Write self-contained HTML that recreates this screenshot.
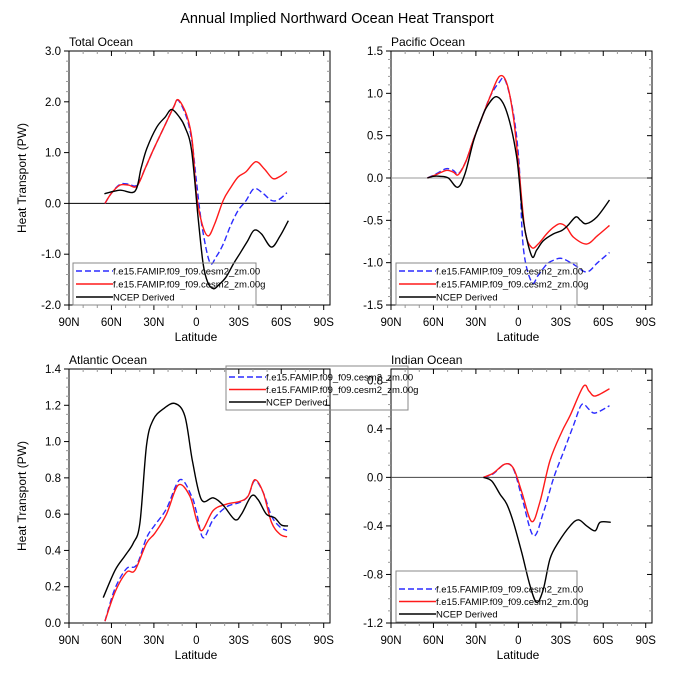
<!DOCTYPE html>
<html><head><meta charset="utf-8">
<style>
body{margin:0;background:#fff;}
svg text{font-family:"Liberation Sans",sans-serif;fill:#000;}
</style></head>
<body>
<svg id="chart" width="673" height="671" xmlns="http://www.w3.org/2000/svg">
<text x="337" y="23" font-size="14.5" text-anchor="middle">Annual Implied Northward Ocean Heat Transport</text>
</svg>
<script>
// Data (latitude in degrees N positive, values in PW)
const xTickLabels=["90N","60N","30N","0","30S","60S","90S"];
const seriesNames=["f.e15.FAMIP.f09_f09.cesm2_zm.00","f.e15.FAMIP.f09_f09.cesm2_zm.00g","NCEP Derived"];
// Total Ocean
const totalBlueLat=[64.6,60,54,48,42,36,30.5,22,16,12.8,7,3,0,-4,-9.5,-14,-19,-24,-29.5,-35,-40.8,-47,-53,-58,-64];
const totalBlueVal=[0,0.2,0.375,0.38,0.36,0.7,1.05,1.55,1.9,2.03,1.7,1.2,0.45,-0.45,-1.16,-1.05,-0.8,-0.45,-0.14,0.05,0.29,0.2,0.06,0.07,0.21];
const totalRedLat=[64.6,60,54,48,42,36,30.5,22,16,12.8,7,3,0,-4,-8.4,-13,-19,-24,-29.5,-35,-42,-48,-54,-59,-64];
const totalRedVal=[0,0.2,0.36,0.36,0.34,0.7,1.05,1.55,1.9,2.04,1.75,1.25,0.2,-0.4,-0.64,-0.4,0.06,0.3,0.52,0.62,0.82,0.68,0.49,0.53,0.63];
const totalBlackLat=[65,54,43.4,39,35,28,22,17.5,12,8,3.4,-1.2,-4.8,-8,-12,-16,-21,-26,-30.7,-36,-40.8,-46,-53,-59,-65];
const totalBlackVal=[0.19,0.26,0.24,0.7,1.08,1.5,1.7,1.85,1.7,1.5,1.05,-0.27,-1.19,-1.55,-1.68,-1.6,-1.45,-1.2,-0.99,-0.75,-0.53,-0.6,-0.86,-0.65,-0.34];
// Pacific Ocean
const pacBlueLat=[64.3,58,51,46,42.4,37,31.8,26,20,14,9.4,3.5,-0.5,-3.5,-9.4,-14,-20,-25,-30.7,-39,-48.3,-56,-64.4];
const pacBlueVal=[0,0.05,0.11,0.09,0.05,0.2,0.45,0.7,0.96,1.12,1.16,0.76,0.17,-0.82,-1.23,-1.15,-1.02,-0.97,-0.95,-1.02,-1.11,-1.0,-0.88];
const pacRedLat=[64.3,58,51,46,42.4,37,31.8,26,20,13.4,8.2,3.5,-0.5,-4.7,-9.4,-14,-20,-25,-29.5,-34,-39,-48.3,-56,-64.4];
const pacRedVal=[0,0.04,0.09,0.07,0.04,0.2,0.45,0.7,0.96,1.2,1.12,0.72,0.09,-0.62,-0.82,-0.78,-0.66,-0.58,-0.54,-0.58,-0.70,-0.78,-0.68,-0.56];
const pacBlackLat=[64.3,60,55.4,49.5,42.9,37.7,31.8,27,22.3,15.3,8.2,1.2,-3.5,-9.4,-13,-17.7,-24.8,-30.7,-35,-40.6,-44,-47.9,-55.5,-64.4];
const pacBlackVal=[0,0.02,0.02,0,-0.11,0.05,0.43,0.66,0.84,0.96,0.78,0.25,-0.5,-0.92,-0.85,-0.74,-0.66,-0.62,-0.56,-0.46,-0.5,-0.54,-0.46,-0.26];
// Atlantic Ocean
const atlBlueLat=[64.6,57.5,49.3,42.2,35.2,29.3,21.1,11.6,3.4,-0.1,-4.8,-11.9,-21.3,-30.7,-36.6,-41.3,-47.2,-53.1,-59,-64.1];
const atlBlueVal=[0.01,0.19,0.30,0.32,0.47,0.54,0.63,0.79,0.70,0.61,0.47,0.57,0.64,0.665,0.70,0.785,0.72,0.59,0.53,0.51];
const atlRedLat=[64.6,57.5,49.3,43.4,35.2,29.3,21.1,12.8,4.6,-0.1,-4.1,-11.9,-21.3,-30.7,-36.6,-41.3,-47.2,-53.1,-59,-64.1];
const atlRedVal=[0.01,0.17,0.28,0.29,0.44,0.495,0.60,0.76,0.70,0.57,0.51,0.62,0.655,0.67,0.70,0.79,0.72,0.555,0.49,0.475];
const atlBlackLat=[65.8,57.5,50.5,44.6,39.9,35.2,30.5,23.4,15.2,8.1,2.7,-3.6,-11.9,-18.9,-27.2,-31.9,-38.9,-43.6,-49.5,-55.4,-60.1,-64.8];
const atlBlackVal=[0.14,0.29,0.37,0.44,0.55,0.98,1.12,1.18,1.21,1.14,0.89,0.68,0.69,0.65,0.57,0.60,0.70,0.68,0.60,0.58,0.54,0.535];
// Indian Ocean
const indBlueLat=[24.7,17.7,9.4,3.5,-2.4,-10.6,-17.7,-24.8,-31.9,-39,-44.8,-50,-54.3,-64.4];
const indBlueVal=[0,0.03,0.11,0.07,-0.16,-0.48,-0.29,-0.01,0.21,0.43,0.6,0.56,0.53,0.59];
const indRedLat=[24.7,17.7,9.4,3.5,-2.4,-9.4,-15.3,-22.4,-30.7,-36.6,-46,-50,-54.3,-64.4];
const indRedVal=[0,0.035,0.11,0.075,-0.12,-0.364,-0.2,0.14,0.375,0.51,0.75,0.71,0.67,0.73];
const indBlackLat=[24.7,18.8,12.9,8.2,3.5,-2.4,-8.2,-13,-17.7,-22.4,-28.3,-36.6,-42.4,-48.3,-54.3,-57.8,-65.3];
const indBlackVal=[0,-0.03,-0.14,-0.22,-0.37,-0.62,-0.89,-1.03,-0.92,-0.67,-0.535,-0.40,-0.35,-0.40,-0.44,-0.37,-0.37];

const NS="http://www.w3.org/2000/svg";
const svg=document.getElementById('chart');
function mk(tag,attrs,parent){const e=document.createElementNS(NS,tag);for(const k in attrs)e.setAttribute(k,attrs[k]);(parent||svg).appendChild(e);return e;}
function smooth(pts){let d="M"+pts[0][0].toFixed(2)+","+pts[0][1].toFixed(2);
 for(let i=0;i<pts.length-1;i++){const p0=pts[i-1]||pts[i],p1=pts[i],p2=pts[i+1],p3=pts[i+2]||p2;
  const c1=[p1[0]+(p2[0]-p0[0])/6,p1[1]+(p2[1]-p0[1])/6],c2=[p2[0]-(p3[0]-p1[0])/6,p2[1]-(p3[1]-p1[1])/6];
  d+=" C"+c1[0].toFixed(2)+","+c1[1].toFixed(2)+" "+c2[0].toFixed(2)+","+c2[1].toFixed(2)+" "+p2[0].toFixed(2)+","+p2[1].toFixed(2);}
 return d;}
const colors=["#2b2bff","#ff1a1a","#000"];
function panel(o){
 const g=mk('g',{});
 
 
 const L=o.x,T=o.y,W=261,H=254,step=42.45;
 const xs=lat=>L+(90-lat)*step/30;
 const ys=v=>T+H-(v-o.ymin)/(o.ymax-o.ymin)*H;
 const fr=mk('rect',{x:L,y:T,width:W,height:H,fill:'none',stroke:'#000','stroke-width':1},g);
 
 
 if(o.ymin<0){const z=mk('line',{x1:L,x2:L+W,y1:ys(0),y2:ys(0),stroke:o.zc,'stroke-width':1},g);
  
  }
 for(let i=0;i<=6;i++){const x=L+i*step;
  mk('line',{x1:x,x2:x,y1:T+H,y2:T+H+5,stroke:'#000'},g);
  mk('line',{x1:x,x2:x,y1:T,y2:T+5,stroke:'#000'},g);
  const t=mk('text',{x:x,y:T+H+21,'font-size':11.5,'text-anchor':'middle'},g);t.textContent=xTickLabels[i];
  
  }
 for(let i=0;i<18;i++){if(i%3==0)continue;const x=L+i*step/3;
  mk('line',{x1:x,x2:x,y1:T+H,y2:T+H+3,stroke:'#999'},g);mk('line',{x1:x,x2:x,y1:T,y2:T+3,stroke:'#999'},g);}
 const n=Math.round((o.ymax-o.ymin)/o.minor);
 for(let i=0;i<=n+1;i++){const v=o.ymin+i*o.minor;if(v>o.ymax+1e-9)break;const y=ys(v);
  const maj=Math.abs(Math.round((v-o.ymin)/o.major)*o.major-(v-o.ymin))<1e-6;
  mk('line',{x1:L-(maj?5:3),x2:L,y1:y,y2:y,stroke:maj?'#000':'#999'},g);
  mk('line',{x1:L+W-(maj?5:3),x2:L+W,y1:y,y2:y,stroke:maj?'#000':'#999'},g);
  if(maj){const t=mk('text',{x:L-8,y:y+4,'font-size':11.5,'text-anchor':'end'},g);t.textContent=v.toFixed(o.dec);
   
   }}
 const tt=mk('text',{x:L,y:T-5,'font-size':12},g);tt.textContent=o.title;
 
 
 const xl=mk('text',{x:L+127,y:T+H+36,'font-size':12,'text-anchor':'middle'},g);xl.textContent="Latitude";
 
 
 if(o.ylab){const yl=mk('text',{x:0,y:0,'font-size':12,'text-anchor':'middle',transform:`translate(${L-43},${T+H/2}) rotate(-90)`},g);yl.textContent="Heat Transport (PW)";
  
  }
 o.series.forEach((s,k)=>{const pts=s[0].map((la,i)=>[xs(la),ys(s[1][i])]);
  const p=mk('path',{d:smooth(pts),fill:'none',stroke:colors[k],'stroke-width':1.4,'stroke-dasharray':k==0?'6,3':'none'},g);
  
  });
 const lg=o.leg,lgG=mk('g',{},svg);
 
 
 mk('rect',{x:lg.x,y:lg.y,width:lg.w,height:lg.h,fill:'none',stroke:'#888','stroke-width':1},lgG);
 seriesNames.forEach((nm,k)=>{const y=lg.y+lg.dy0+k*lg.dy;
  mk('line',{x1:lg.x+3,x2:lg.x+40,y1:y,y2:y,stroke:colors[k],'stroke-width':1.4,'stroke-dasharray':k==0?'6,3':'none'},lgG);
  const t=mk('text',{x:lg.x+40,y:y+3.5,'font-size':9.5},lgG);t.textContent=nm;
  
  });
}
panel({name:'total-ocean-panel',title:'Total Ocean',x:69,y:51,ymin:-2,ymax:3,major:1,minor:0.2,dec:1,zc:'#000',ylab:true,
 series:[[totalBlueLat,totalBlueVal],[totalRedLat,totalRedVal],[totalBlackLat,totalBlackVal]],
 leg:{x:73,y:263,w:183,h:42,dy0:8,dy:13}});
panel({name:'pacific-ocean-panel',title:'Pacific Ocean',x:391,y:51,ymin:-1.5,ymax:1.5,major:0.5,minor:0.1,dec:1,zc:'#999',ylab:false,
 series:[[pacBlueLat,pacBlueVal],[pacRedLat,pacRedVal],[pacBlackLat,pacBlackVal]],
 leg:{x:396,y:263,w:181,h:42,dy0:8,dy:13}});
panel({name:'indian-ocean-panel',title:'Indian Ocean',x:391,y:369,ymin:-1.2,ymax:0.893,major:0.4,minor:0.1,dec:1,zc:'#444',ylab:false,
 series:[[indBlueLat,indBlueVal],[indRedLat,indRedVal],[indBlackLat,indBlackVal]],
 leg:{x:396,y:571,w:181,h:51,dy0:18,dy:12.5}});
panel({name:'atlantic-ocean-panel',title:'Atlantic Ocean',x:69,y:369,ymin:0,ymax:1.4,major:0.2,minor:0.05,dec:1,zc:'#000',ylab:true,
 series:[[atlBlueLat,atlBlueVal],[atlRedLat,atlRedVal],[atlBlackLat,atlBlackVal]],
 leg:{x:226,y:366,w:182,h:44,dy0:11,dy:12.5}});
</script>
</body></html>
